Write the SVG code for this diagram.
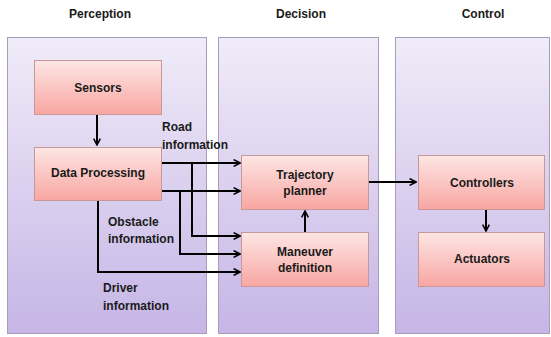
<svg xmlns="http://www.w3.org/2000/svg" width="551" height="337" viewBox="0 0 551 337">
<defs>
<linearGradient id="pg" x1="0" y1="0" x2="0" y2="1">
<stop offset="0" stop-color="#f0ecf8"/>
<stop offset="1" stop-color="#c6b5e6"/>
</linearGradient>
<linearGradient id="ng" x1="0" y1="0" x2="0" y2="1">
<stop offset="0" stop-color="#fde6e4"/>
<stop offset="1" stop-color="#f8a6a2"/>
</linearGradient>
<marker id="ar" viewBox="0 0 10 10" refX="9" refY="5" markerWidth="8" markerHeight="8" markerUnits="userSpaceOnUse" orient="auto">
<path d="M1,0.8 L9,5 L1,9.2" fill="none" stroke="#000" stroke-width="2"/>
</marker>
</defs>
<style>
.panel{fill:url(#pg);stroke:#a89cb8;stroke-width:1}
.node{fill:url(#ng);stroke:#c89898;stroke-width:1}
.t{font-family:"Liberation Sans",Arial,sans-serif;font-weight:bold;font-size:12px;fill:#1a1a1a}
.c{text-anchor:middle}
.ln{fill:none;stroke:#000;stroke-width:2}
.a{marker-end:url(#ar)}
</style>
<rect width="551" height="337" fill="#ffffff"/>
<g id="panels">
<rect class="panel" x="7.5" y="37.5" width="199" height="296"/>
<rect class="panel" x="218.5" y="37.5" width="160" height="296"/>
<rect class="panel" x="395.5" y="37.5" width="154" height="296"/>
</g>
<g id="headers">
<text class="t c" x="100" y="18">Perception</text>
<text class="t c" x="301" y="18">Decision</text>
<text class="t c" x="483" y="18">Control</text>
</g>
<g id="connectors">
<path class="ln a" d="M97,115 V145"/>
<path class="ln a" d="M162,163 H240"/>
<path class="ln a" d="M162,191 H240"/>
<path class="ln a" d="M192,163 V236 H240"/>
<path class="ln a" d="M180,191 V254 H240"/>
<path class="ln a" d="M98,200 V272 H240"/>
<path class="ln a" d="M305,232 V211"/>
<path class="ln a" d="M368,182 H416"/>
<path class="ln a" d="M486,209 V231"/>
</g>
<g id="labels">
<text class="t" x="162" y="131">Road</text>
<text class="t" x="162" y="149">information</text>
<text class="t" x="108" y="226">Obstacle</text>
<text class="t" x="108" y="243">information</text>
<text class="t" x="103" y="292">Driver</text>
<text class="t" x="103" y="310">information</text>
</g>
<g id="sensors">
<rect class="node" x="34.5" y="60.5" width="127" height="54"/>
<text class="t c" x="98" y="92">Sensors</text>
</g>
<g id="data-processing">
<rect class="node" x="34.5" y="147.5" width="127" height="53"/>
<text class="t c" x="98" y="177">Data Processing</text>
</g>
<g id="trajectory-planner">
<rect class="node" x="241.5" y="155.5" width="127" height="54"/>
<text class="t c" x="305" y="179">Trajectory</text>
<text class="t c" x="305" y="195">planner</text>
</g>
<g id="maneuver-definition">
<rect class="node" x="241.5" y="232.5" width="127" height="54"/>
<text class="t c" x="305" y="256">Maneuver</text>
<text class="t c" x="305" y="272">definition</text>
</g>
<g id="controllers">
<rect class="node" x="418.5" y="155.5" width="126" height="54"/>
<text class="t c" x="482" y="187">Controllers</text>
</g>
<g id="actuators">
<rect class="node" x="418.5" y="232.5" width="126" height="54"/>
<text class="t c" x="482" y="263">Actuators</text>
</g>
</svg>
